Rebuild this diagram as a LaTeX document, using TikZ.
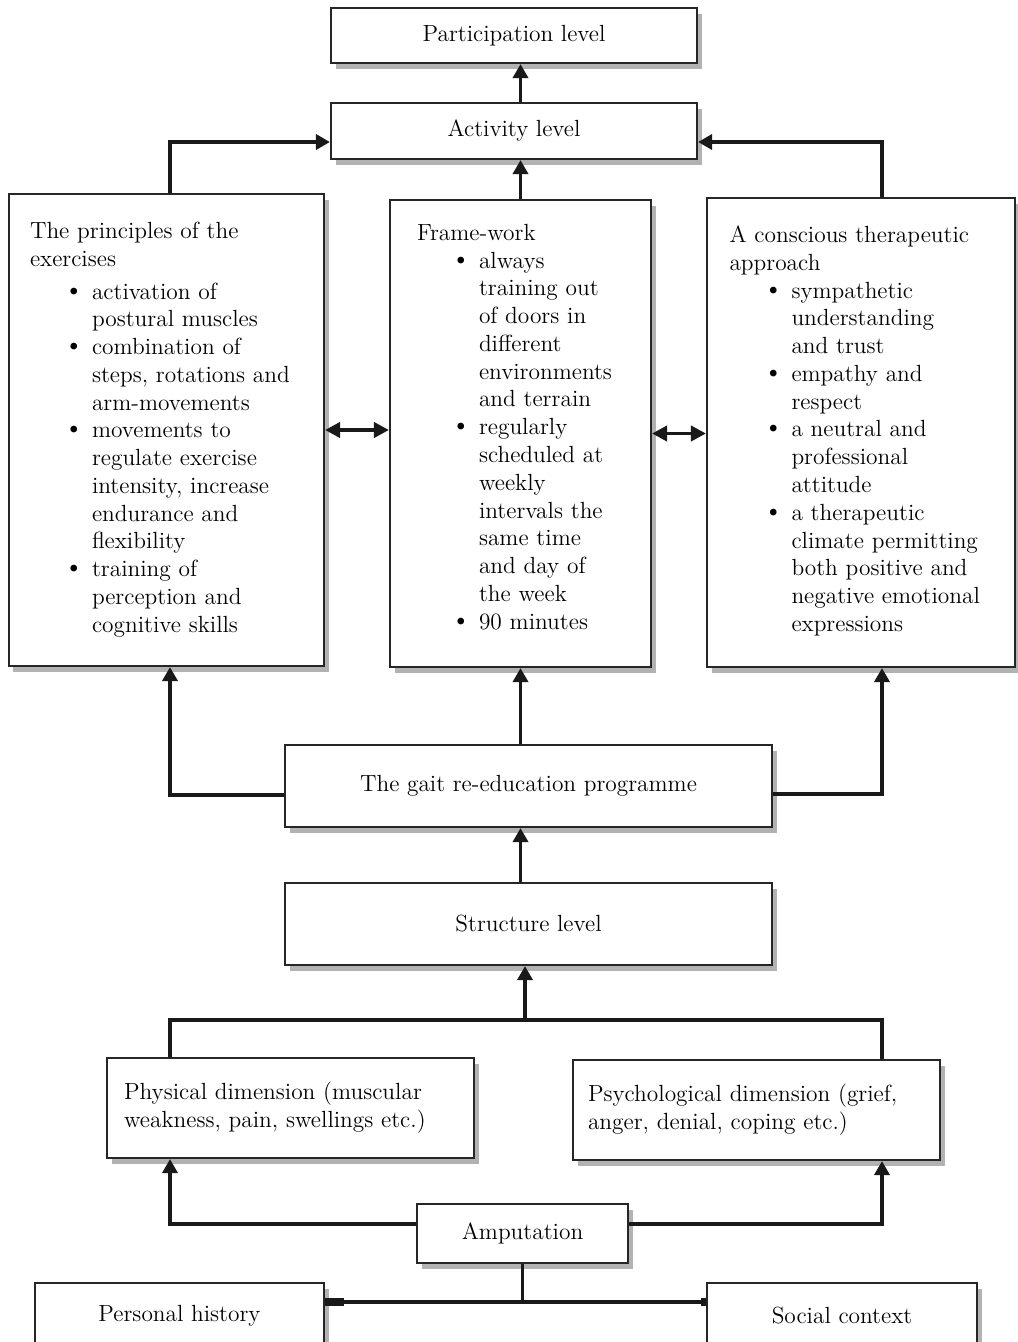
\documentclass[tikz,border=0pt]{standalone}
\usetikzlibrary{arrows.meta,shadows}

\newcommand{\boxfont}{\fontsize{13.3}{15.8}\selectfont}
\newcommand{\bul}[1]{\hspace*{0.66cm}\makebox[0.58cm][l]{\fontsize{17}{15.8}\selectfont\textbullet}#1}
\newcommand{\cont}[1]{\hspace*{1.24cm}#1}
\newcommand{\lift}[1]{\\[#1]\mbox{}}

\tikzset{
	box/.style={draw=black!85, line width=1.2pt, fill=white, inner sep=0pt, font=\boxfont,
		drop shadow={shadow xshift=0.09cm, shadow yshift=-0.11cm, fill=black!40, opacity=0.75}},
	link/.style={line width=2.2pt, draw=black!90},
	arr/.style={link, -{Triangle[length=0.28cm,width=0.3cm]}},
	dbl/.style={link, {Triangle[length=0.3cm,width=0.3cm]}-{Triangle[length=0.3cm,width=0.3cm]}},
}

\begin{document}
\begin{tikzpicture}
		\path[use as bounding box, fill=white] (0,0) rectangle (20.34,-26.84);
		
		%Levels on top
		\node[box, minimum width=7.32cm, minimum height=1.1cm] (part) at (10.28,-0.71) {Participation level};
		\node[box, minimum width=7.32cm, minimum height=1.12cm] (act) at (10.28,-2.62) {Activity level};
		
		%Three columns
		\node[box, minimum height=9.44cm, inner xsep=0.42cm, text width=5.46cm, align=left] (princ) at (3.33,-8.6) {The principles of the\\ exercises\\[0.1cm]
			\bul{activation of}\\ \cont{postural muscles}\\
			\bul{combination of}\\ \cont{steps, rotations and}\\ \cont{arm-movements}\\
			\bul{movements to}\\ \cont{regulate exercise}\\ \cont{intensity, increase}\\ \cont{endurance and}\\ \cont{flexibility}\\
			\bul{training of}\\ \cont{perception and}\\ \cont{cognitive skills}\lift{-0.44cm}};
		\node[box, minimum height=9.34cm, inner xsep=0.54cm, text width=4.14cm, align=left] (frame) at (10.41,-8.67) {Frame-work\\
			\bul{always}\\ \cont{training out}\\ \cont{of doors in}\\ \cont{different}\\ \cont{environments}\\ \cont{and terrain}\\
			\bul{regularly}\\ \cont{scheduled at}\\ \cont{weekly}\\ \cont{intervals the}\\ \cont{same time}\\ \cont{and day of}\\ \cont{the week}\\
			\bul{90 minutes}\lift{-0.28cm}};
		\node[box, minimum height=9.38cm, inner xsep=0.45cm, text width=5.26cm, align=left] (consc) at (17.22,-8.65) {A conscious therapeutic\\ approach\\
			\bul{sympathetic}\\ \cont{understanding}\\ \cont{and trust}\\
			\bul{empathy and}\\ \cont{respect}\\
			\bul{a neutral and}\\ \cont{professional}\\ \cont{attitude}\\
			\bul{a therapeutic}\\ \cont{climate permitting}\\ \cont{both positive and}\\ \cont{negative emotional}\\ \cont{expressions}\lift{-0.4cm}};
		
		%Programme and structure
		\node[box, minimum width=9.74cm, minimum height=1.64cm] (gait) at (10.57,-15.72) {The gait re-education programme};
		\node[box, minimum width=9.74cm, minimum height=1.64cm] (struct) at (10.57,-18.48) {Structure level};
		
		%Dimensions
		\node[box, minimum height=2cm, inner xsep=0.34cm, text width=6.66cm, align=left] (phys) at (5.81,-22.16) {Physical dimension (muscular\\ weakness, pain, swellings etc.)};
		\node[box, minimum height=2cm, inner xsep=0.3cm, text width=6.74cm, align=left] (psych) at (15.13,-22.2) {Psychological dimension (grief,\\ anger, denial, coping etc.)};
		
		%Bottom row
		\node[box, minimum width=4.22cm, minimum height=1.18cm] (amp) at (10.45,-24.67) {Amputation};
		\node[box, minimum width=5.78cm, minimum height=1.3cm] (pers) at (3.59,-26.31) {Personal history};
		\node[box, minimum width=5.4cm, minimum height=1.3cm] (soc) at (16.84,-26.31) {Social context};
		
		%Arrows to the levels
		\draw[arr] (frame.north |- act.north) -- (frame.north |- part.south);
		\draw[arr] (frame.north) -- (frame.north |- act.south);
		\draw[arr] ([xshift=0.07cm]princ.north) |- ([yshift=-0.22cm]act.west);
		\draw[arr] ([xshift=0.42cm]consc.north) |- ([yshift=-0.22cm]act.east);
		\draw[dbl] (princ.east) -- (princ.east -| frame.west);
		\draw[dbl] (frame.east) -- (frame.east -| consc.west);
		
		%Arrows from the programme
		\draw[arr] ([yshift=-0.18cm]gait.west) -| ([xshift=0.07cm]princ.south);
		\draw[arr] ([yshift=-0.16cm]gait.east) -| ([xshift=0.42cm]consc.south);
		\draw[arr] (frame.south |- gait.north) -- (frame.south);
		\draw[arr] (frame.south |- struct.north) -- (frame.south |- gait.south);
		
		%Dimensions to structure
		\coordinate (join) at (10.5,-20.4);
		\draw[link] ([xshift=-2.41cm]phys.north) |- (join) -| ([xshift=2.51cm]psych.north);
		\draw[arr] (join) -- (join |- struct.south);
		
		%Amputation
		\draw[arr] ([yshift=0.19cm]amp.west) -| ([xshift=-2.41cm]phys.south);
		\draw[arr] ([yshift=0.19cm]amp.east) -| ([xshift=2.51cm]psych.south);
		\coordinate (base) at (amp.south |- 0,-26.04);
		\draw[link] (amp.south) -- (base);
		\draw[link, {Rectangle[length=0.38cm,width=0.15cm]}-{Rectangle[length=0.1cm,width=0.15cm]}] (pers.east |- base) -- (soc.west |- base);
		
\end{tikzpicture}
\end{document}
